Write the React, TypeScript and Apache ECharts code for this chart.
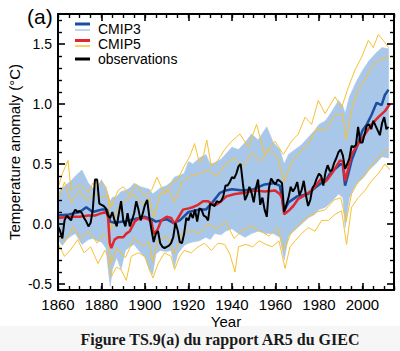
import React, { useEffect, useRef } from "react";
import * as echarts from "echarts";

// ---------- data ----------
const obsStartYear = 1860;
const obsValues = [
  -0.02, -0.06, -0.12, 0.03, 0.07, 0.05, 0.03, 0.09, 0.12, 0.10,
  0.11, 0.09, 0.05, 0.02, -0.02, 0.01, 0.12, 0.37, 0.37, 0.17,
  0.16, 0.15, 0.13, 0.07, 0.05, 0.10, 0.03, -0.02, 0.09, 0.19,
  0.03, -0.02, 0.09, -0.02, 0.03, 0.09, 0.19, 0.12, 0.03, 0.09,
  0.16, 0.20, 0.06, -0.05, -0.15, -0.08, -0.06, -0.16, -0.19, -0.20,
  -0.19, -0.18, -0.16, -0.11, 0.01, -0.05, -0.15, -0.16, -0.08, 0.05,
  0.03, 0.09, 0.05, 0.12, 0.02, 0.13, 0.12, 0.07, 0.06, 0.03,
  0.17, 0.16, 0.15, 0.19, 0.18, 0.19, 0.23, 0.32, 0.32, 0.35,
  0.39, 0.38, 0.42, 0.48, 0.50, 0.34, 0.20, 0.24, 0.31, 0.26,
  0.18, 0.30, 0.37, 0.16, 0.22, 0.12, 0.06, 0.30, 0.38, 0.35,
  0.33, 0.37, 0.36, 0.34, 0.10, 0.16, 0.22, 0.31, 0.27, 0.30,
  0.35, 0.24, 0.28, 0.36, 0.24, 0.15, 0.20, 0.30, 0.33, 0.38,
  0.42, 0.40, 0.32, 0.43, 0.49, 0.44, 0.45, 0.51, 0.55, 0.60,
  0.62, 0.57, 0.46, 0.50, 0.55, 0.65, 0.64, 0.66, 0.81, 0.68,
  0.68, 0.75, 0.82, 0.83, 0.79, 0.86, 0.82, 0.78, 0.74, 0.84,
  0.89, 0.79, 0.81,
];

const cmip3Years = [
  1860, 1865, 1870, 1873, 1876, 1880, 1882.5, 1884, 1886, 1890,
  1895, 1900, 1903, 1905, 1910, 1913, 1916, 1920, 1925, 1928,
  1931, 1934.5, 1937, 1940, 1945, 1950, 1955, 1959, 1962, 1964,
  1966, 1970, 1975, 1978, 1981, 1983, 1985, 1990, 1991, 1992,
  1993.5, 1995, 1998, 2000, 2002, 2004.2, 2006.5, 2008.8, 2010.3, 2012,
];
const cmip3Values = [
  0.07, 0.08, 0.10, 0.14, 0.10, 0.12, 0.12, 0.02, 0.01, 0.02,
  0.04, 0.06, 0.04, 0.02, 0.04, 0.01, 0.03, 0.10, 0.12, 0.12,
  0.18, 0.26, 0.28, 0.29, 0.28, 0.29, 0.33, 0.34, 0.32, 0.11,
  0.18, 0.23, 0.25, 0.30, 0.34, 0.36, 0.42, 0.50, 0.49, 0.32,
  0.42, 0.53, 0.67, 0.78, 0.83, 0.91, 1.01, 0.99, 1.075, 1.12,
];

const cmip5Years = [
  1860, 1865, 1870, 1874, 1877, 1880, 1882.2, 1883, 1883.8, 1884.5,
  1886, 1887.6, 1890, 1891.4, 1893, 1895.3, 1897.5, 1900, 1901.4, 1903,
  1904, 1905.7, 1907.5, 1910, 1912, 1913.6, 1915.2, 1917.5, 1920, 1922,
  1924.4, 1926.7, 1929, 1930.5, 1932.8, 1935, 1937.4, 1941.4, 1946, 1950.6,
  1955, 1959.8, 1962, 1963, 1964, 1966, 1968.2, 1970.5, 1973.6, 1976.6,
  1979, 1981.2, 1982.8, 1984.3, 1986.6, 1989.7, 1991, 1992, 1993.2, 1995,
  1998.1, 2001.2, 2004.2, 2007.3, 2010.3, 2012.6,
];
const cmip5Values = [
  0.05, 0.06, 0.06, 0.07, 0.07, 0.09, 0.10, 0.06, -0.16, -0.20,
  -0.13, -0.11, -0.11, -0.08, -0.06, 0.02, 0.05, 0.05, 0.04, 0.02,
  -0.08, -0.05, 0.03, 0.06, 0.05, 0.00, 0.05, 0.12, 0.13, 0.14,
  0.16, 0.19, 0.19, 0.17, 0.16, 0.19, 0.23, 0.25, 0.26, 0.28,
  0.27, 0.28, 0.25, 0.22, 0.08, 0.11, 0.15, 0.21, 0.24, 0.28,
  0.33, 0.38, 0.35, 0.38, 0.44, 0.53, 0.52, 0.36, 0.44, 0.58,
  0.67, 0.75, 0.83, 0.89, 0.94, 1.00,
];

// CMIP3 ensemble spread (light blue)
const bandYears = [
  1860, 1862, 1864, 1866, 1868, 1871, 1874, 1876, 1878, 1880,
  1882, 1884, 1885, 1887, 1889, 1891, 1893, 1895, 1898, 1900,
  1902, 1903.5, 1905, 1907, 1910, 1912, 1913.5, 1915, 1918, 1920,
  1922, 1925, 1928, 1930, 1932, 1935, 1937, 1940, 1943, 1946,
  1949, 1952, 1956, 1959, 1962, 1964, 1966, 1969, 1972, 1975,
  1978, 1980, 1983, 1986, 1989, 1991, 1992, 1994, 1997, 2000,
  2003, 2006, 2009, 2012,
];
const bandHigh = [
  0.26, 0.30, 0.33, 0.36, 0.40, 0.45, 0.34, 0.30, 0.31, 0.37,
  0.30, 0.19, 0.22, 0.23, 0.27, 0.28, 0.30, 0.34, 0.31, 0.30,
  0.29, 0.25, 0.27, 0.30, 0.32, 0.35, 0.39, 0.40, 0.42, 0.52,
  0.50, 0.55, 0.58, 0.50, 0.51, 0.54, 0.58, 0.64, 0.62, 0.68,
  0.75, 0.70, 0.81, 0.68, 0.62, 0.50, 0.58, 0.62, 0.66, 0.72,
  0.78, 0.83, 0.86, 0.94, 1.03, 0.98, 0.92, 1.06, 1.18, 1.28,
  1.36, 1.42, 1.47, 1.46,
];
const bandLow = [
  -0.13, -0.18, -0.13, -0.10, -0.08, -0.17, -0.13, -0.12, -0.14, -0.15,
  -0.20, -0.52, -0.38, -0.28, -0.38, -0.22, -0.19, -0.17, -0.24, -0.28,
  -0.38, -0.42, -0.25, -0.22, -0.23, -0.22, -0.36, -0.25, -0.18, -0.16,
  -0.15, -0.14, -0.11, -0.13, -0.08, -0.09, -0.06, -0.04, -0.08, -0.11,
  -0.08, -0.06, -0.08, -0.08, -0.11, -0.30, -0.10, -0.05, 0.00, 0.05,
  0.08, 0.12, 0.14, 0.19, 0.25, 0.22, -0.03, 0.22, 0.33, 0.38,
  0.45, 0.50, 0.56, 0.55,
];

// CMIP5 individual runs (yellow)
const yellowAYears = [
  1860, 1862, 1864.6, 1866, 1868, 1871, 1874, 1876, 1878, 1880,
  1882, 1884.5, 1887.6, 1890, 1893, 1896, 1900, 1903, 1905.5, 1909,
  1912, 1915, 1918, 1920.5, 1922.8, 1925, 1927, 1928.4, 1930.5, 1933.5,
  1936.6, 1939.8, 1943.7, 1947.5, 1951.3, 1955, 1959.8, 1963.6, 1967.4, 1970.5,
  1973.6, 1976.6, 1979.7, 1982.8, 1987.4, 1990.4, 1993.5, 1996.5, 1999.6, 2002.7,
  2005, 2007.3, 2009.6, 2012,
];
const yellowAValues = [
  0.30, 0.42, 0.53, 0.28, 0.31, 0.32, 0.26, 0.34, 0.30, 0.35,
  0.31, 0.14, 0.28, 0.31, 0.24, 0.33, 0.23, 0.28, 0.39, 0.25,
  0.34, 0.37, 0.48, 0.56, 0.67, 0.51, 0.58, 0.70, 0.48, 0.53,
  0.62, 0.69, 0.75, 0.64, 0.83, 0.58, 0.69, 0.58, 0.69, 0.75,
  0.89, 0.83, 1.03, 0.92, 1.06, 0.97, 1.14, 1.28, 1.39, 1.53,
  1.47, 1.58, 1.53, 1.47,
];
const yellowBYears = [
  1860, 1863, 1866, 1870, 1873, 1877, 1880, 1883, 1884.5, 1887,
  1891, 1895, 1899, 1902, 1904, 1907, 1911, 1913.5, 1917, 1921,
  1925, 1929, 1933, 1937, 1941, 1945, 1949, 1953, 1957, 1961,
  1964, 1967, 1971, 1975, 1979, 1983, 1987, 1991, 1992.5, 1995,
  1998, 2001, 2004, 2007, 2010, 2012,
];
const yellowBValues = [
  0.20, 0.35, 0.18, 0.28, 0.20, 0.25, 0.22, 0.24, -0.05, 0.12,
  0.20, 0.25, 0.16, 0.22, 0.05, 0.25, 0.28, 0.18, 0.35, 0.40,
  0.42, 0.45, 0.40, 0.50, 0.55, 0.48, 0.60, 0.52, 0.62, 0.55,
  0.35, 0.50, 0.60, 0.66, 0.80, 0.78, 0.90, 0.92, 0.70, 0.95,
  1.12, 1.20, 1.30, 1.36, 1.38, 1.40,
];
const yellowCYears = [
  1860, 1863, 1867, 1870, 1874, 1878, 1881, 1883, 1884.5, 1887,
  1891, 1895, 1899, 1902, 1903.5, 1906, 1910, 1913.5, 1917, 1921,
  1925, 1929, 1933, 1937, 1941, 1945, 1949, 1953, 1957, 1961,
  1964, 1967, 1971, 1975, 1979, 1983, 1987, 1990, 1992.5, 1995,
  1998, 2001, 2004, 2007, 2010, 2012,
];
const yellowCValues = [
  -0.08, -0.15, -0.02, -0.12, -0.06, -0.16, -0.08, -0.12, -0.33, -0.20,
  -0.28, -0.12, -0.18, -0.15, -0.32, -0.14, -0.10, -0.25, -0.08, -0.05,
  -0.08, 0.00, -0.04, 0.02, -0.12, -0.05, -0.02, -0.06, -0.10, -0.03,
  -0.22, -0.08, 0.00, 0.06, 0.10, 0.12, 0.20, 0.22, 0.02, 0.25,
  0.35, 0.40, 0.48, 0.55, 0.60, 0.62,
];
const yellowDYears = [
  1860, 1863, 1866, 1869, 1872, 1875, 1878.4, 1881.5, 1883, 1884.5,
  1886.8, 1889, 1891.4, 1893.7, 1896.8, 1900, 1902, 1903.7, 1906, 1909,
  1912, 1913.6, 1916, 1918, 1921.3, 1924.4, 1927.4, 1930.5, 1933.6, 1936.6,
  1939, 1941.4, 1943, 1946.4, 1949.5, 1952.5, 1955.5, 1958.5, 1961.6, 1964.4,
  1966.7, 1969, 1972, 1975, 1978.2, 1981.2, 1984.3, 1987.4, 1990.4, 1992.7,
  1995, 1998.1, 2001.2, 2004.2, 2007.3, 2010.3, 2012.6,
];
const yellowDValues = [
  -0.16, -0.27, -0.21, -0.13, -0.24, -0.19, -0.33, -0.22, -0.27, -0.44,
  -0.36, -0.38, -0.47, -0.27, -0.24, -0.27, -0.38, -0.45, -0.33, -0.24,
  -0.27, -0.38, -0.27, -0.22, -0.24, -0.19, -0.16, -0.22, -0.16, -0.17,
  -0.25, -0.40, -0.19, -0.17, -0.19, -0.14, -0.17, -0.19, -0.14, -0.37,
  -0.19, -0.14, -0.08, -0.03, -0.06, 0.03, 0.03, 0.08, 0.11, -0.17,
  0.14, 0.22, 0.28, 0.36, 0.42, 0.50, 0.45,
];

// axes
const xMin = 1860;
const xMax = 2014.5;
const xMajorInterval = 20;
const xMinorInterval = 5;
const yMin = -0.55;
const yMax = 1.75;
const yLabelTicks = [-0.5, 0.0, 0.5, 1.0, 1.5];
const yMinorTicks = [
  -0.4, -0.3, -0.2, -0.1, 0.1, 0.2, 0.3, 0.4, 0.6, 0.7, 0.8, 0.9,
  1.1, 1.2, 1.3, 1.4, 1.6, 1.7,
];

// ---------- styles ----------
const BAND = "#a9c7e8";
const YELLOW = "#f8c132";
const RED = "#e0262e";
const BLUE = "#1b4ea0";
const FONT = "Liberation Sans";

const zip = (xs: number[], ys: number[]) => xs.map((x, i) => [x, ys[i]]);

export default function App() {
  const ref = useRef<HTMLDivElement>(null);
  useEffect(() => {
    if (!ref.current) return;
    const chart = echarts.init(ref.current, undefined, { renderer: "svg" });
    const obsData = obsValues.map((v, i) => [obsStartYear + i, v]);
    const axisLine = { show: true, onZero: false, lineStyle: { color: "#000", width: 2 } };
    const noLine = { show: false, onZero: false };
    const majorStyle = { color: "#000", width: 1.6 };
    const minorStyle = { color: "#000", width: 1.4 };
    const xAx = (pos: string, interval: number, minor: boolean) => ({
      type: "value", min: xMin, max: xMax, interval, position: pos, z: 10,
      axisLine: minor ? noLine : axisLine,
      axisTick: { show: true, inside: true, length: minor ? 4 : 7, lineStyle: minor ? minorStyle : majorStyle },
      axisLabel: { show: false }, splitLine: { show: false },
    });
    const yAx = (pos: string, vals: number[], minor: boolean) => ({
      type: "value", min: yMin, max: yMax, position: pos, z: 10,
      axisLine: minor ? noLine : axisLine,
      axisTick: { show: true, inside: true, length: minor ? 4 : 7, customValues: vals, lineStyle: minor ? minorStyle : majorStyle },
      axisLabel: { show: false }, splitLine: { show: false },
    });
    const yellowLine = (data: number[][]) => ({
      type: "line", data, showSymbol: false, symbol: "none", silent: true,
      lineStyle: { color: YELLOW, width: 1 },
    });
    const legendText = (text: string, y: number) => ({
      type: "text", x: 98, y,
      style: { text, fontSize: 14, fontFamily: FONT, fill: "#000", textAlign: "left", textVerticalAlign: "middle" },
    });

    const mainX = {
      ...xAx("bottom", xMajorInterval, false),
      axisLabel: {
        show: true, showMaxLabel: false, color: "#000", fontSize: 15,
        fontFamily: FONT, margin: 7, formatter: (v: number) => String(v),
      },
      name: "Year", nameLocation: "middle", nameGap: 24, nameMoveOverlap: false,
      nameTextStyle: { color: "#000", fontSize: 15, fontFamily: FONT },
    };
    const mainY = {
      ...yAx("left", yLabelTicks, false),
      axisLabel: {
        show: true, customValues: yLabelTicks, color: "#000", fontSize: 14,
        fontFamily: FONT, margin: 6, formatter: (v: number) => v.toFixed(1),
      },
      name: "Temperature anomaly (°C)", nameLocation: "middle", nameGap: 36,
      nameRotate: 90, nameMoveOverlap: false,
      nameTextStyle: { color: "#000", fontSize: 15, fontFamily: FONT },
    };

    chart.setOption({
      animation: false,
      backgroundColor: "#fff",
      grid: { left: 58, right: 6, top: 14, bottom: 61, outerBoundsMode: "none" },
      xAxis: [
        mainX,
        xAx("bottom", xMinorInterval, true),
        xAx("top", xMajorInterval, false),
        xAx("top", xMinorInterval, true),
      ],
      yAxis: [
        mainY,
        yAx("left", yMinorTicks, true),
        yAx("right", yLabelTicks, false),
        yAx("right", yMinorTicks, true),
      ],
      series: [
        yellowLine(zip(yellowAYears, yellowAValues)),
        yellowLine(zip(yellowDYears, yellowDValues)),
        yellowLine(zip(yellowBYears, yellowBValues)),
        yellowLine(zip(yellowCYears, yellowCValues)),
        {
          type: "custom",
          silent: true,
          data: bandYears.map((yr, i) => [yr, bandLow[i], bandHigh[i]]),
          encode: { x: 0, y: [1, 2] },
          renderItem: (params: any, api: any) => {
            if (params.dataIndex !== 0) return null;
            const top = bandYears.map((yr, i) => api.coord([yr, bandHigh[i]]));
            const bottom = bandYears.map((yr, i) => api.coord([yr, bandLow[i]])).reverse();
            return {
              type: "polygon",
              shape: { points: top.concat(bottom) },
              style: { fill: BAND, stroke: BAND, lineWidth: 0.6 },
            };
          },
        },
        {
          name: "CMIP3", type: "line", data: zip(cmip3Years, cmip3Values),
          showSymbol: false, symbol: "none", lineStyle: { color: BLUE, width: 2.5 },
        },
        {
          name: "CMIP5", type: "line", data: zip(cmip5Years, cmip5Values),
          showSymbol: false, symbol: "none", lineStyle: { color: RED, width: 2.5 },
        },
        {
          name: "observations", type: "line", data: obsData,
          showSymbol: false, symbol: "none", lineStyle: { color: "#000", width: 2 },
        },
      ],
      graphic: [
        { type: "rect", shape: { x: 0, y: 326, width: 400, height: 25 }, style: { fill: "#f6f6f6" }, z: -10 },
        { type: "text", x: 27, y: 16, style: { text: "(a)", fontSize: 21, fontFamily: FONT, fill: "#000", textAlign: "left", textVerticalAlign: "middle" } },
        { type: "line", shape: { x1: 75, y1: 24, x2: 90, y2: 24 }, style: { stroke: BLUE, lineWidth: 3 } },
        { type: "line", shape: { x1: 75, y1: 30, x2: 90, y2: 30 }, style: { stroke: BAND, lineWidth: 1.5 } },
        { type: "line", shape: { x1: 75, y1: 40.5, x2: 90, y2: 40.5 }, style: { stroke: RED, lineWidth: 3 } },
        { type: "line", shape: { x1: 75, y1: 46, x2: 90, y2: 46 }, style: { stroke: YELLOW, lineWidth: 1.5 } },
        { type: "line", shape: { x1: 75, y1: 59, x2: 90, y2: 59 }, style: { stroke: "#000", lineWidth: 3 } },
        legendText("CMIP3", 28.5),
        legendText("CMIP5", 43.5),
        legendText("observations", 58.5),
        { type: "text", x: 220, y: 339, style: { text: "Figure TS.9(a) du rapport AR5 du GIEC", fontSize: 16, fontWeight: "bold", fontFamily: "Liberation Serif", fill: "#1a1a1a", textAlign: "center", textVerticalAlign: "middle" } },
      ],
    });
    return () => chart.dispose();
  }, []);
  return (
    <div
      ref={ref}
      style={{ position: "fixed", left: 0, top: 0, width: 400, height: 351 }}
    />
  );
}
